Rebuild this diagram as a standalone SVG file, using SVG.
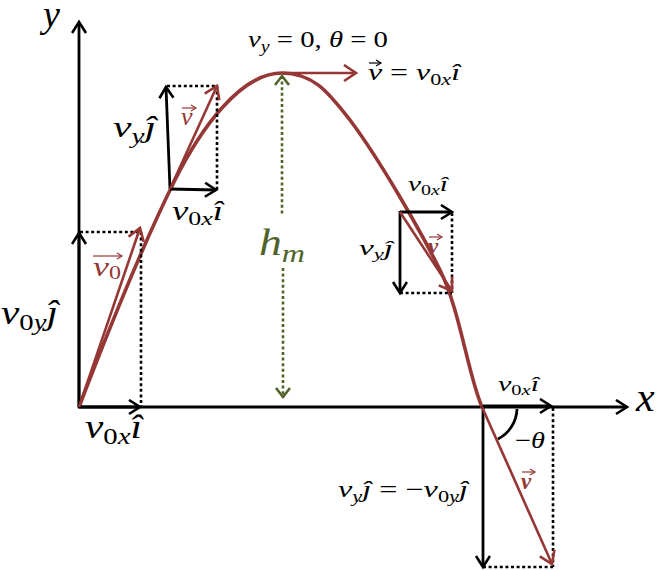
<svg xmlns="http://www.w3.org/2000/svg" width="657" height="570" viewBox="0 0 657 570">
<style>
.t{font-family:"Liberation Serif","DejaVu Serif",serif;font-style:italic;fill:#000}
.u{font-style:normal}
.r{fill:#953735}
.g{fill:#4F6228}
.b{font-weight:bold}
.k{stroke:#000;stroke-width:2.8;fill:none}
.red{stroke:#953735;stroke-width:2.6;fill:none}
.dot{stroke:#000;stroke-width:2.6;stroke-dasharray:3 2.6;fill:none}
.gd{stroke:#4F6228;stroke-width:2.6;stroke-dasharray:3 2.6;fill:none}
.va{stroke-width:1.2;fill:none}
</style>
<defs>
<marker id="ak" markerWidth="24" markerHeight="24" refX="12" refY="8" orient="auto-start-reverse" markerUnits="userSpaceOnUse"><path d="M1,1 L12,8 L1,15" fill="none" stroke="#000" stroke-width="2.6"/></marker>
<marker id="ar" markerWidth="24" markerHeight="24" refX="13" refY="9" orient="auto-start-reverse" markerUnits="userSpaceOnUse"><path d="M1,1 L13,9 L1,17" fill="none" stroke="#953735" stroke-width="2.6"/></marker>
<marker id="ag" markerWidth="24" markerHeight="24" refX="10" refY="8" orient="auto-start-reverse" markerUnits="userSpaceOnUse"><path d="M1,1 L10,8 L1,15" fill="none" stroke="#4F6228" stroke-width="2.6"/></marker>
<marker id="as" markerWidth="12" markerHeight="12" refX="6" refY="4" orient="auto" markerUnits="userSpaceOnUse"><path d="M1,1 L6,4 L1,7" fill="none" stroke="#953735" stroke-width="1.2"/></marker>
<marker id="asb" markerWidth="12" markerHeight="12" refX="6" refY="4" orient="auto" markerUnits="userSpaceOnUse"><path d="M1,1 L6,4 L1,7" fill="none" stroke="#000" stroke-width="1.2"/></marker>
</defs>

<g id="axes">
<line class="k" x1="79" y1="408" x2="79" y2="22" marker-end="url(#ak)"/>
<line class="k" x1="78" y1="407" x2="627" y2="407" marker-end="url(#ak)"/>
<text class="t" x="43" y="27" font-size="38">y</text>
<text class="t" x="636" y="411" font-size="42">x</text>
</g>

<g id="trajectory">
<path d="M79,407 C120,300 150,230 175,180 C200,130 240,73 282,73 C315,73 330,95 350,120 C380,160 420,230 440,270 C460,310 468,375 482,407" fill="none" stroke="#953735" stroke-width="3.6"/>
</g>

<g id="height">
<line class="gd" x1="282" y1="76" x2="282" y2="214" marker-start="url(#ag)"/>
<line class="gd" x1="283" y1="268" x2="283" y2="397" marker-end="url(#ag)"/>
<text class="t g" x="259" y="255" font-size="37" textLength="46" lengthAdjust="spacingAndGlyphs">h<tspan font-size="26" dy="7">m</tspan></text>
</g>

<g id="launch">
<line class="dot" x1="80" y1="232" x2="141" y2="232"/>
<line class="dot" x1="141" y1="232" x2="141" y2="407"/>
<line class="k" x1="79" y1="407" x2="79" y2="233" marker-end="url(#ak)"/>
<line class="k" x1="79" y1="407" x2="140" y2="407" marker-end="url(#ak)"/>
<line class="red" x1="79" y1="407" x2="140" y2="228" marker-end="url(#ar)"/>
<line class="va" stroke="#953735" x1="93" y1="256" x2="122" y2="256" marker-end="url(#as)"/>
<text class="t r" x="93" y="276" font-size="27" textLength="28" lengthAdjust="spacingAndGlyphs">v<tspan class="u" font-size="18" dy="3">0</tspan></text>
<text class="t" x="1" y="324" font-size="33" textLength="57" lengthAdjust="spacingAndGlyphs">v<tspan class="u" font-size="23" dy="6">0</tspan><tspan font-size="23">y</tspan><tspan dy="-6">ĵ</tspan></text>
<text class="t" x="85" y="438" font-size="33" textLength="57" lengthAdjust="spacingAndGlyphs">v<tspan class="u" font-size="23" dy="6">0</tspan><tspan font-size="23">x</tspan><tspan dy="-6">î</tspan></text>
</g>

<g id="rising">
<line class="dot" x1="167" y1="86" x2="217" y2="86"/>
<line class="dot" x1="217" y1="86" x2="217" y2="190"/>
<line class="k" x1="170" y1="189" x2="166" y2="87" marker-end="url(#ak)"/>
<line class="k" x1="170" y1="189" x2="216" y2="190" marker-end="url(#ak)"/>
<line class="red" x1="170" y1="189" x2="217" y2="86" marker-end="url(#ar)"/>
<text class="t" x="113" y="137" font-size="30" textLength="43" lengthAdjust="spacingAndGlyphs">v<tspan font-size="21" dy="6">y</tspan><tspan dy="-6">ĵ</tspan></text>
<line class="va" stroke="#953735" x1="182" y1="108" x2="196" y2="108" marker-end="url(#as)"/>
<text class="t r" x="181" y="125" font-size="26">v</text>
<text class="t" x="172" y="220" font-size="27" textLength="51" lengthAdjust="spacingAndGlyphs">v<tspan class="u" font-size="19" dy="5">0</tspan><tspan font-size="19">x</tspan><tspan dy="-5">î</tspan></text>
</g>

<g id="peak">
<line class="red" x1="282" y1="73" x2="356" y2="73" marker-end="url(#ar)"/>
<text class="t" x="248" y="47" font-size="23" textLength="140" lengthAdjust="spacingAndGlyphs">v<tspan font-size="16" dy="5">y</tspan><tspan class="u" dy="-5"> = 0, </tspan>θ<tspan class="u"> = 0</tspan></text>
<line class="va" stroke="#000" x1="369" y1="63" x2="381" y2="63" marker-end="url(#asb)"/>
<text class="t" x="368" y="80" font-size="23" textLength="92" lengthAdjust="spacingAndGlyphs">v<tspan class="u"> = </tspan>v<tspan class="u" font-size="16" dy="5">0</tspan><tspan font-size="16">x</tspan><tspan dy="-5">î</tspan></text>
</g>

<g id="falling">
<line class="dot" x1="452" y1="213" x2="452" y2="293"/>
<line class="dot" x1="400" y1="293" x2="452" y2="293"/>
<line class="k" x1="400" y1="212" x2="452" y2="212" marker-end="url(#ak)"/>
<line class="k" x1="400" y1="211" x2="400" y2="293" marker-end="url(#ak)"/>
<line class="red" x1="400" y1="212" x2="452" y2="291" marker-end="url(#ar)"/>
<text class="t" x="408" y="191" font-size="22" textLength="40" lengthAdjust="spacingAndGlyphs">v<tspan class="u" font-size="15" dy="4">0</tspan><tspan font-size="15">x</tspan><tspan dy="-4">î</tspan></text>
<text class="t" x="359" y="255" font-size="22" textLength="34" lengthAdjust="spacingAndGlyphs">v<tspan font-size="15" dy="4">y</tspan><tspan dy="-4">ĵ</tspan></text>
<line class="va" stroke="#953735" x1="429" y1="237" x2="442" y2="237" marker-end="url(#as)"/>
<text class="t r b" x="428" y="254" font-size="23">v</text>
</g>

<g id="landing">
<line class="dot" x1="553" y1="408" x2="553" y2="567"/>
<line class="dot" x1="483" y1="567" x2="553" y2="567"/>
<line class="k" x1="483" y1="406" x2="551" y2="406" marker-end="url(#ak)"/>
<line class="k" x1="483" y1="406" x2="483" y2="567" marker-end="url(#ak)"/>
<line class="red" x1="482" y1="407" x2="552" y2="564" marker-end="url(#ar)"/>
<path class="k" d="M517,409 A35,35 0 0 1 498,439"/>
<text class="t" x="498" y="391" font-size="22" textLength="41" lengthAdjust="spacingAndGlyphs">v<tspan class="u" font-size="15" dy="4">0</tspan><tspan font-size="15">x</tspan><tspan dy="-4">î</tspan></text>
<text class="t" x="515" y="448" font-size="23" textLength="30" lengthAdjust="spacingAndGlyphs"><tspan class="u">−</tspan>θ</text>
<text class="t" x="338" y="497" font-size="23" textLength="130" lengthAdjust="spacingAndGlyphs">v<tspan font-size="16" dy="5">y</tspan><tspan dy="-5">ĵ</tspan><tspan class="u"> = −</tspan>v<tspan class="u" font-size="16" dy="5">0</tspan><tspan font-size="16">y</tspan><tspan dy="-5">ĵ</tspan></text>
<line class="va" stroke="#953735" x1="522" y1="472" x2="535" y2="472" marker-end="url(#as)"/>
<text class="t r b" x="521" y="489" font-size="23">v</text>
</g>
</svg>
